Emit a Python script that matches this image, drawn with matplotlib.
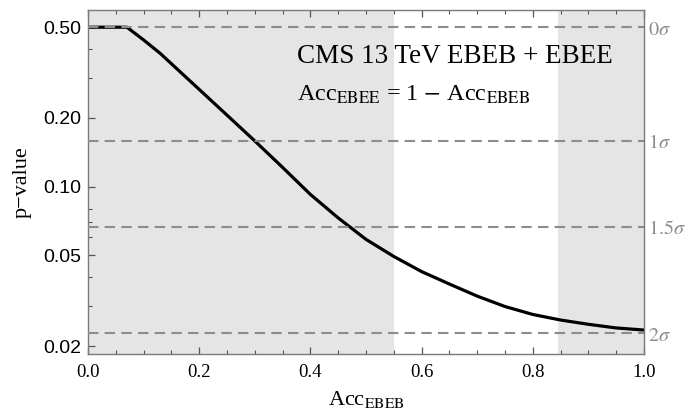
import numpy as np
import matplotlib
matplotlib.use("Agg")
import matplotlib.pyplot as plt
from matplotlib.ticker import FixedLocator, NullFormatter

plt.rcParams['mathtext.fontset'] = 'stix'
serif = 'Liberation Serif'
sans = 'Liberation Sans'

# curve
acc = [0.0, 0.07, 0.10, 0.13, 0.165, 0.20, 0.25, 0.30, 0.35, 0.40, 0.45,
       0.50, 0.55, 0.60, 0.65, 0.70, 0.75, 0.80, 0.85, 0.90, 0.95, 1.0]
pval = [0.5, 0.5, 0.4397, 0.3837, 0.3199, 0.2668, 0.2058, 0.1586, 0.1214, 0.0924, 0.0729,
        0.0587, 0.0494, 0.0424, 0.0374, 0.0331, 0.0298, 0.0275, 0.0260, 0.0249, 0.0240, 0.0235]

# significance lines
sig_p = [0.5, 0.1587, 0.0668, 0.02275]
sig_lab = [r'$0\sigma$', r'$1\sigma$', r'$1.5\sigma$', r'$2\sigma$']

# shaded bands
bands = [(0.0, 0.55), (0.845, 1.0)]

yticks = [0.02, 0.05, 0.1, 0.2, 0.5]
ylabels = ['0.02', '0.05', '0.10', '0.20', '0.50']
yminor = [0.03, 0.04, 0.06, 0.07, 0.08, 0.3, 0.4]

fig = plt.figure(figsize=(6.89, 4.18), dpi=100)
ax = fig.add_axes([88/689, 1-354/418, (644-88)/689, (354-9.5)/418])

for a, b in bands:
    ax.axvspan(a, b, color='#e5e5e5', lw=0, zorder=0)
ax.plot(acc, pval, color='black', lw=2.3, zorder=2, solid_joinstyle='round')
for p in sig_p:
    ax.axhline(p, color='#8c8c8c', ls=(0, (5, 3)), lw=1.5, zorder=3)

ax.set_yscale('log')
ax.set_xlim(0, 1)
ax.set_ylim(0.01845, 0.598)

ax.set_yticks(yticks, ylabels)
ax.yaxis.set_minor_locator(FixedLocator(yminor))
ax.yaxis.set_minor_formatter(NullFormatter())
ax.set_xticks([0, 0.2, 0.4, 0.6, 0.8, 1.0], ['0.0', '0.2', '0.4', '0.6', '0.8', '1.0'])
ax.xaxis.set_minor_locator(FixedLocator(np.arange(0.05, 1.0, 0.05)))

for lab in ax.get_yticklabels():
    lab.set_fontfamily(sans)
    lab.set_fontsize(14)
for lab in ax.get_xticklabels():
    lab.set_fontfamily(serif)
    lab.set_fontsize(13.5)

ax.tick_params(axis='both', which='major', length=5, width=0.9, color='#555555', direction='in', pad=5)
ax.tick_params(axis='both', which='minor', length=3, width=0.8, color='#555555', direction='in')
ax.tick_params(axis='x', which='both', top=True)
ax.tick_params(axis='x', which='major', pad=7)
for s in ax.spines.values():
    s.set_color('#7a7a7a')
    s.set_linewidth(1.0)

ax.set_ylabel('p\u2212value', fontfamily=serif, fontsize=16, labelpad=8)
ax.set_xlabel(r'Acc$_{\mathrm{EBEB}}$', fontfamily=serif, fontsize=16, labelpad=6)

ax2 = ax.twinx()
ax2.set_yscale('log')
ax2.set_ylim(ax.get_ylim())
ax2.set_yticks(sig_p, sig_lab)
ax2.yaxis.set_minor_locator(FixedLocator([]))
ax2.tick_params(axis='y', length=0, pad=3, labelsize=14.5, labelcolor='#8c8c8c')
for s in ax2.spines.values():
    s.set_visible(False)

ax.text(0.376, 0.845, 'CMS 13 TeV EBEB + EBEE', transform=ax.transAxes,
        fontfamily=serif, fontsize=19.5, va='baseline')
ax.text(0.376, 0.734, r'Acc$_{\mathrm{EBEE}}$ = 1 $-$ Acc$_{\mathrm{EBEB}}$', transform=ax.transAxes,
        fontfamily=serif, fontsize=17.5, va='baseline')

fig.savefig('out.png', dpi=100)
